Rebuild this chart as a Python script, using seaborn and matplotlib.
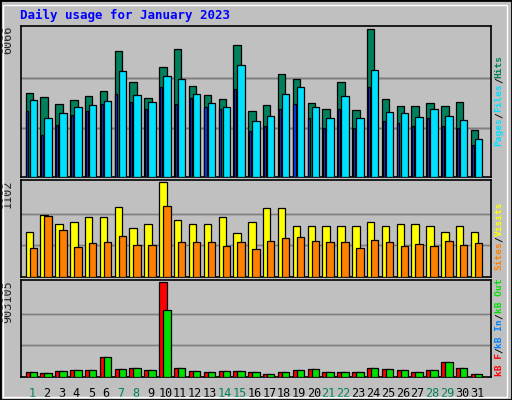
import numpy as np
import matplotlib
matplotlib.use("Agg")
import matplotlib.pyplot as plt
import seaborn as sns

days = np.arange(1, 32)
weekend = [1, 7, 8, 14, 15, 21, 22, 28, 29]

# values
hits = [3451, 3290, 3007, 3169, 3331, 3533, 5151, 3897, 3250, 4503, 5232, 3735, 3371, 3209, 5394,
        2684, 2967, 4220, 4018, 3048, 2806, 3897, 2765, 6066, 3209, 2927, 2927, 3048, 2927, 3088, 1941]
files = [3169, 2427, 2629, 2871, 2952, 3128, 4341, 3371, 3088, 4139, 4018, 3412, 3048, 2871, 4584,
         2305, 2507, 3412, 3695, 2871, 2427, 3331, 2427, 4382, 2669, 2629, 2467, 2790, 2507, 2346, 1537]
pages = [2710, 1736, 2120, 2529, 2710, 2993, 3392, 3069, 2792, 3673, 2993, 3231, 2872, 2790, 3595,
         1900, 2100, 2800, 3000, 2400, 2000, 2800, 2000, 3700, 2300, 2200, 2100, 2400, 2100, 2000, 1300]
visits = [522, 719, 614, 638, 696, 696, 812, 568, 614, 1102, 661, 614, 614, 696, 510,
          638, 800, 800, 592, 592, 592, 592, 592, 638, 592, 614, 614, 592, 522, 592, 522]
sites = [336, 707, 545, 348, 394, 406, 475, 371, 371, 824, 406, 406, 406, 359, 406,
         325, 417, 452, 464, 417, 406, 406, 336, 429, 406, 359, 383, 359, 417, 371, 394]
kb_f = [49620, 39700, 59550, 69470, 69470, 188600, 79400, 89320, 69470, 903105, 89320, 59550,
        49620, 59550, 59550, 49620, 29770, 49620, 69470, 79400, 49620, 49620, 49620, 89320, 79400,
        69470, 49620, 69470, 138950, 89320, 29770]
kb_out = [49620, 39700, 59550, 69470, 69470, 188600, 79400, 89320, 69470, 635100, 89320, 59550,
          49620, 59550, 59550, 49620, 29770, 49620, 69470, 79400, 49620, 49620, 49620, 89320, 79400,
          69470, 49620, 69470, 138950, 89320, 29770]

sns.set_style("white")
plt.rcParams['font.family'] = ['DejaVu Sans Mono']
W, H = 512, 400
fig = plt.figure(figsize=(W / 100, H / 100), dpi=100, facecolor="#c0c0c0")
fig.patches.append(plt.Rectangle((0, 0), 1, 1, transform=fig.transFigure, fill=False,
                                 edgecolor="black", linewidth=2))
fig.patches.append(plt.Rectangle((3 / W, 3 / H), 1 - 8 / W, 1 - 8 / H, transform=fig.transFigure,
                                 fill=False, edgecolor="white", linewidth=1))


def panel(top, bottom):
    ax = fig.add_axes([21 / W, 1 - bottom / H, (491 - 21) / W, (bottom - top) / H])
    ax.set_facecolor("#c0c0c0")
    for s in ax.spines.values():
        s.set_color("black")
        s.set_linewidth(1.2)
    ax.set_xlim(0.17, 31.84)
    ax.set_xticks([])
    ax.set_yticks([])
    return ax


def bars(ax, vals, offset, width, color, vmax):
    ax.bar(days + offset, vals, width=width, color=color, edgecolor="black", linewidth=0.9, zorder=3)
    ax.set_ylim(0, vmax * 1.02)
    for f in (1 / 3, 2 / 3):
        ax.axhline(vmax * f, color="#808080", linewidth=1, zorder=1)


ax1 = panel(26, 177)
bars(ax1, hits, -0.27, 0.5, "#00805c", 6066)
bars(ax1, files, 0.0, 0.5, "#00e0ff", 6066)
bars(ax1, pages, -0.4, 0.14, "#0040ff", 6066)

ax2 = panel(180, 277)
bars(ax2, visits, -0.27, 0.5, "#ffff00", 1102)
bars(ax2, sites, 0.0, 0.5, "#ff8000", 1102)

ax3 = panel(280, 377)
bars(ax3, kb_f, -0.27, 0.5, "#ff0000", 903105)
bars(ax3, kb_out, 0.0, 0.5, "#00e000", 903105)

for ax, lab in ((ax1, "6066"), (ax2, "1102"), (ax3, "903105")):
    ax.text(-0.015, 1.0, lab, transform=ax.transAxes, rotation=90, ha="right", va="top", fontsize=8.5)

for d in days:
    ax3.text(d - 0.1, -0.1, str(d), transform=ax3.get_xaxis_transform(), ha="center", va="top",
             fontsize=8.5, color="#00805c" if d in weekend else "black")

fig.text(20 / W, 1 - 15 / H, "Daily usage for January 2023", color="#0000ff", fontsize=9,
         fontweight="bold", va="center")


def side(parts, y_bottom):
    y = y_bottom
    for txt, col in parts:
        fig.text(499 / W, 1 - y / H, txt, color=col, rotation=90, ha="center", va="bottom",
                 fontsize=6.8, fontweight="bold")
        y -= len(txt) * 5.7


side([("Pages", "#00e0ff"), ("/", "black"), ("Files", "#00e0ff"), ("/", "black"), ("Hits", "#00805c")], 146)
side([("Sites", "#ff8000"), ("/", "black"), ("Visits", "#ffff00")], 270)
side([("kB F", "#ff0000"), ("/", "black"), ("kB In", "#0080ff"), ("/", "black"), ("kB Out", "#00e000")], 376)

fig.savefig("out.png", dpi=100, facecolor=fig.get_facecolor())
